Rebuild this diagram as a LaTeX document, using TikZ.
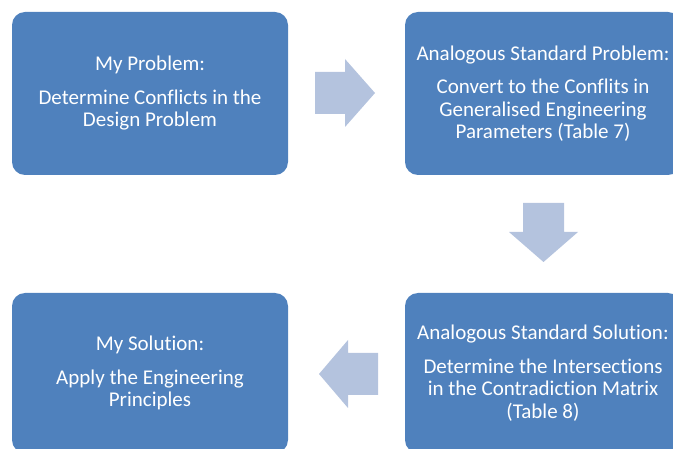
\documentclass[tikz,border=0pt]{standalone}
\usepackage{fontspec}
\setmainfont[Ligatures=CommonOff]{Carlito}
\usepackage{tikz}

\definecolor{boxblue}{RGB}{79,129,189}
\definecolor{arrowblue}{RGB}{180,195,222}

\tikzset{
    stepbox/.style={fill=boxblue, rounded corners=13pt, minimum width=276pt,
        inner sep=0pt, text=white, align=center,
        font=\fontsize{21}{22.5}\selectfont},
    blockarrow/.style={fill=arrowblue}
}

\begin{document}
\begin{tikzpicture}[x=1pt,y=-1pt]
                \useasboundingbox (0,0) rectangle (673,449);
                \clip (0,0) rectangle (673,449);
                %boxes
                \node[stepbox, minimum height=163pt] (myproblem) at (150,93.5)
                    {My Problem:\\[11pt]Determine Conflicts in the\\Design Problem};
                \node[stepbox, minimum height=163pt] (stdproblem) at (543,93.5)
                    {Analogous Standard Problem:\\[11pt]Convert to the Conflits in\\Generalised Engineering\\Parameters (Table 7)};
                \node[stepbox, minimum height=160pt] (stdsolution) at (543,373)
                    {Analogous Standard Solution:\\[11pt]Determine the Intersections\\in the Contradiction Matrix\\(Table 8)};
                \node[stepbox, minimum height=160pt] (mysolution) at (150,373)
                    {My Solution:\\[11pt]Apply the Engineering\\Principles};
                %arrows
                \fill[blockarrow] (315,72) -- (345,72) -- (345,59) -- (375,93)
                    -- (345,127) -- (345,114) -- (315,114) -- cycle;
                \fill[blockarrow] (523,203) -- (564,203) -- (564,232) -- (578,232)
                    -- (543.5,262) -- (509,232) -- (523,232) -- cycle;
                \fill[blockarrow] (378,353) -- (348,353) -- (348,340) -- (319,374)
                    -- (348,408) -- (348,395) -- (378,395) -- cycle;
            \end{tikzpicture}
\end{document}
